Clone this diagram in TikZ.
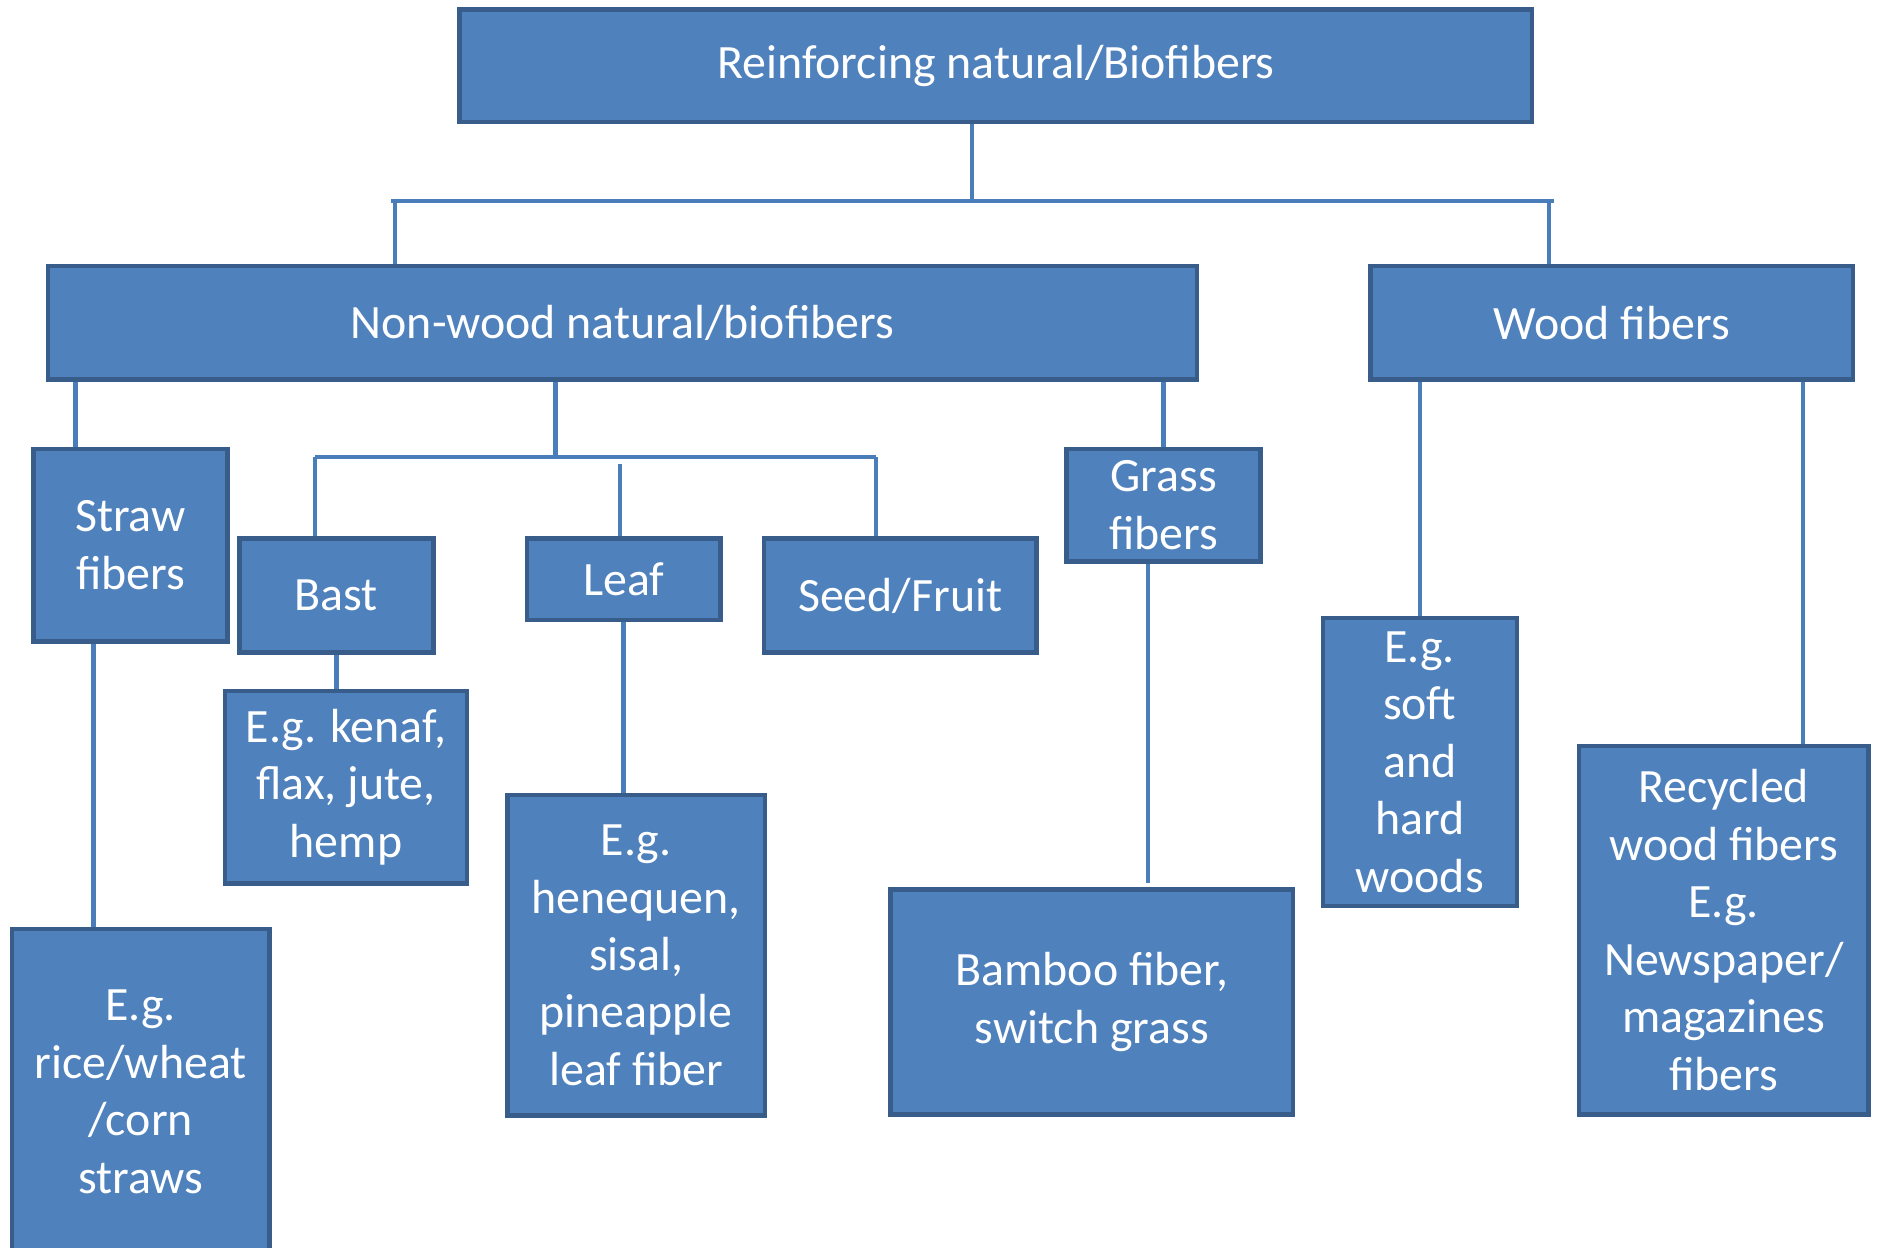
\documentclass[tikz,border=0pt]{standalone}
\usepackage{fontspec}
\setmainfont{Carlito}
\usetikzlibrary{backgrounds}
\definecolor{boxfill}{HTML}{4F81BD}
\definecolor{boxline}{HTML}{385D8A}
\definecolor{connc}{HTML}{4A7EBB}
\begin{document}
\begin{tikzpicture}[x=0.6pt,y=-0.6pt,
  box/.style 2 args={draw=boxline, fill=boxfill, line width=2.2pt,
    minimum width={#1*0.6pt}, minimum height={#2*0.6pt}, inner sep=0pt,
    align=center, text=white, font=\fontsize{24}{28.8}\selectfont},
  conn/.style={draw=connc, line width=2.2pt}]
\useasboundingbox (0,0) rectangle (1568,1042);
\clip (0,0) rectangle (1568,1042);

\node[box={896}{94}] (top) at (832,55) {Reinforcing natural/Biofibers};
\node[box={960}{95}] (nw) at (520,269.5) {Non-wood natural/biofibers};
\node[box={403}{95}] (wood) at (1346.5,269.5) {Wood fibers};
\node[box={162}{161}] (straw) at (109,455.5) {Straw\\fibers};
\node[box={162}{95}] (bast) at (281,497.5) {Bast};
\node[box={162}{68}] (leaf) at (521,484) {Leaf};
\node[box={228}{95}] (seed) at (752,497.5) {Seed/Fruit};
\node[box={162}{94}] (grass) at (972,422) {Grass\\fibers};
\node[box={202}{161}] (kenaf) at (289,657.5) {E.g. kenaf,\\flax, jute,\\hemp};
\node[box={215}{272}] (rice) at (117.5,912) {E.g.\\rice/wheat\\/corn\\straws};
\node[box={215}{268}] (hen) at (531.5,798) {E.g.\\henequen,\\sisal,\\pineapple\\leaf fiber};
\node[box={336}{188}] (bamboo) at (912,837) {Bamboo fiber,\\switch grass};
\node[box={162}{241}] (soft) at (1186,636.5) {E.g.\\soft\\and\\hard\\woods};
\node[box={242}{308}] (rec) at (1440,777) {Recycled\\wood fibers\\E.g.\\Newspaper/\\magazines\\fibers};

\coordinate (b1) at (812,168);
\coordinate (b1L) at (327,168);
\coordinate (b1R) at (1298,168);
\coordinate (b2) at (464,382);
\coordinate (b2L) at (263,382);
\coordinate (b2R) at (732,382);
\coordinate (b2M) at (518,388);

\begin{scope}[on background layer]
\draw[conn] (top.south -| b1) -- (b1);
\draw[conn] (b1L) -- (b1R);
\draw[conn] (330,168) -- (nw.north -| 330,0);
\draw[conn] (1294,168) -- (wood.north -| 1294,0);

\draw[conn] (nw.south -| 63,0) -- (straw.north -| 63,0);
\draw[conn] (nw.south -| b2) -- (b2);
\draw[conn] (b2L) -- (b2R);
\draw[conn] (b2L) -- (bast.north -| b2L);
\draw[conn] (b2M) -- (leaf.north -| b2M);
\draw[conn] (b2R) -- (seed.north -| b2R);
\draw[conn] (nw.south -| grass.north) -- (grass.north);

\draw[conn] (straw.south -| 78,0) -- (rice.north -| 78,0);
\draw[conn] (bast.south) -- (kenaf.north -| bast.south);
\draw[conn] (leaf.south) -- (hen.north -| leaf.south);
\draw[conn] (grass.south -| 959,0) -- (959,738);
\draw[conn] (wood.south -| soft.north) -- (soft.north);
\draw[conn] (wood.south -| 1506,0) -- (rec.north -| 1506,0);
\end{scope}
\end{tikzpicture}
\end{document}
